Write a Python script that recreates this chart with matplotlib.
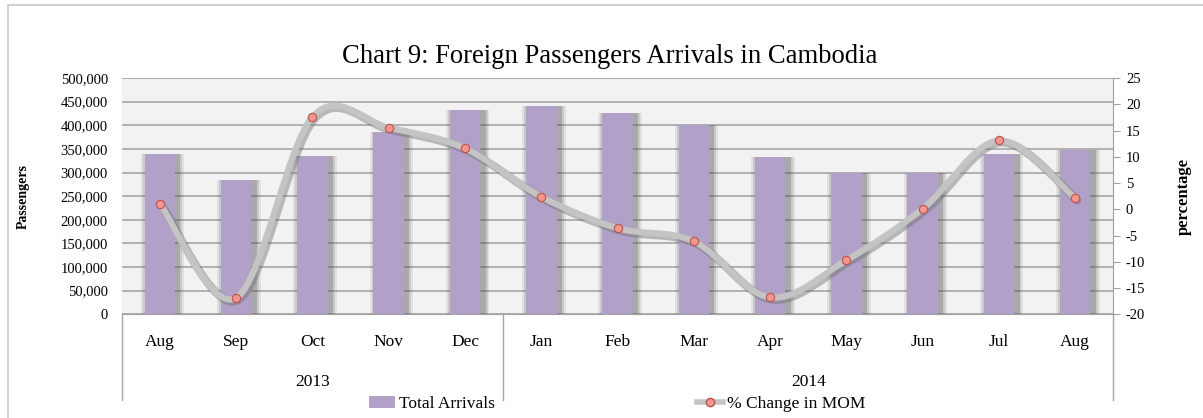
import matplotlib.pyplot as plt
import matplotlib.transforms as mtransforms
from matplotlib.path import Path
from matplotlib.patches import PathPatch, Rectangle, Patch
from matplotlib.lines import Line2D
import numpy as np

plt.rcParams['font.family'] = ['Liberation Serif', 'DejaVu Serif']
plt.rcParams['axes.unicode_minus'] = False

months = ["Aug", "Sep", "Oct", "Nov", "Dec", "Jan", "Feb", "Mar",
          "Apr", "May", "Jun", "Jul", "Aug"]
years = ["2013", "2014"]
year_counts = [5, 8]
arrivals = [340000, 284000, 334000, 385000, 432000, 441000, 426000,
            401000, 332000, 299000, 300000, 339000, 347000]
mom_change = [1.0, -16.9, 17.6, 15.5, 11.6, 2.4, -3.6, -6.1, -16.8,
              -9.7, 0.1, 13.1, 2.1]

bar_color = "#B1A0C8"
line_color = "#C4C4C4"
marker_face = "#F0968C"
marker_edge = "#C0504D"
grid_color = "#A6A6A6"


def smooth_path(xs, ys):
    # excel-like smoothed line: catmull-rom turned into bezier segments
    pts = list(zip(xs, ys))
    n = len(pts)
    verts = [pts[0]]
    codes = [Path.MOVETO]
    for i in range(n - 1):
        p0 = pts[max(i - 1, 0)]
        p1 = pts[i]
        p2 = pts[i + 1]
        p3 = pts[min(i + 2, n - 1)]
        c1 = (p1[0] + (p2[0] - p0[0]) / 6, p1[1] + (p2[1] - p0[1]) / 6)
        c2 = (p2[0] - (p3[0] - p1[0]) / 6, p2[1] - (p3[1] - p1[1]) / 6)
        verts += [c1, c2, p2]
        codes += [Path.CURVE4] * 3
    return Path(verts, codes)


fig = plt.figure(figsize=(12.03, 4.18), dpi=100)
ax = fig.add_axes([0.1012, 0.2481, 0.8243, 0.5653])
ax.set_facecolor("#F2F2F2")

x = np.arange(len(months))

# soft shadows behind the bars, mostly to the right
for extra, a in [(0.17, 0.10), (0.12, 0.16), (0.07, 0.26)]:
    ax.bar(x + 0.035, arrivals, width=0.4 + extra, color="#505050",
           alpha=a, linewidth=0, zorder=2)
ax.bar(x, arrivals, width=0.4, color=bar_color, linewidth=0, zorder=3)

ax.set_xlim(-0.5, len(months) - 0.5)
ax.set_ylim(0, 500000)
ax.set_yticks(np.arange(0, 500001, 50000))
ax.set_yticklabels(["{:,}".format(v) for v in range(0, 500001, 50000)])
ax.yaxis.grid(True, color=grid_color, linewidth=1.2)
ax.set_axisbelow(True)
ax.tick_params(axis="y", length=0, pad=10, labelsize=10.5)
ax.set_xticks(x)
ax.set_xticklabels(months, fontsize=12.5)
ax.tick_params(axis="x", length=0, pad=14)
for side in ["left", "top", "right"]:
    ax.spines[side].set_visible(False)
ax.spines["bottom"].set_color("#A0A0A0")
ax.set_ylabel("Passengers", fontsize=10, fontweight="bold", labelpad=22)

# year group labels and separators
trans = mtransforms.blended_transform_factory(ax.transData, ax.transAxes)
start = 0
seps = [-0.5]
for yr, cnt in zip(years, year_counts):
    ax.text(start + (cnt - 1) / 2, -0.285, yr, transform=trans,
            ha="center", va="center", fontsize=12.5)
    start += cnt
    seps.append(start - 0.5)
for s in seps:
    ax.plot([s, s], [0, -0.363], transform=trans, color="#A6A6A6",
            linewidth=1, clip_on=False)

ax2 = ax.twinx()
ax2.set_ylim(-20, 25)
ax2.set_yticks(np.arange(-20, 26, 5))
ax2.tick_params(axis="y", direction="out", length=5, color="#A0A0A0",
                labelsize=10.5, pad=4)
for side in ["left", "top", "bottom"]:
    ax2.spines[side].set_visible(False)
ax2.spines["right"].set_color("#A0A0A0")
ax2.set_ylabel("percentage", fontsize=12, fontweight="bold", labelpad=22)

path = smooth_path(x, mom_change)
shadow_tr = mtransforms.offset_copy(ax2.transData, fig=fig, x=2, y=-2,
                                    units="dots")
ax2.add_patch(PathPatch(path, fill=False, edgecolor="#707070", alpha=0.45,
                        linewidth=6, transform=shadow_tr, zorder=4,
                        capstyle="round"))
ax2.add_patch(PathPatch(path, fill=False, edgecolor=line_color,
                        linewidth=4.5, zorder=5, capstyle="round"))
ax2.plot(x, mom_change, linestyle="none", marker="o", markersize=6,
         markerfacecolor=marker_face, markeredgecolor=marker_edge,
         markeredgewidth=0.8, zorder=6)

fig.text(0.507, 1 - 63 / 418, "Chart 9: Foreign Passengers Arrivals in Cambodia",
         fontsize=19.2, ha="center", va="baseline")

handles = [Patch(facecolor=bar_color, edgecolor="none"),
           Line2D([], [], color=line_color, linewidth=4, marker="o",
                  markersize=6, markerfacecolor=marker_face,
                  markeredgecolor=marker_edge)]
fig.legend(handles, ["Total Arrivals", "% Change in MOM"], ncol=2,
           loc="center", bbox_to_anchor=(0.513, 0.033), frameon=False,
           fontsize=12.5, columnspacing=11.6, handlelength=1.5,
           handletextpad=0.25, borderpad=0)

# light frame around the chart
fig.add_artist(Rectangle((8 / 1203, -0.05), 1.1, 1.05 - 5 / 418,
                         transform=fig.transFigure, fill=False,
                         edgecolor="#C8C8C8", linewidth=1.2))

fig.savefig("out.png", dpi=100)
